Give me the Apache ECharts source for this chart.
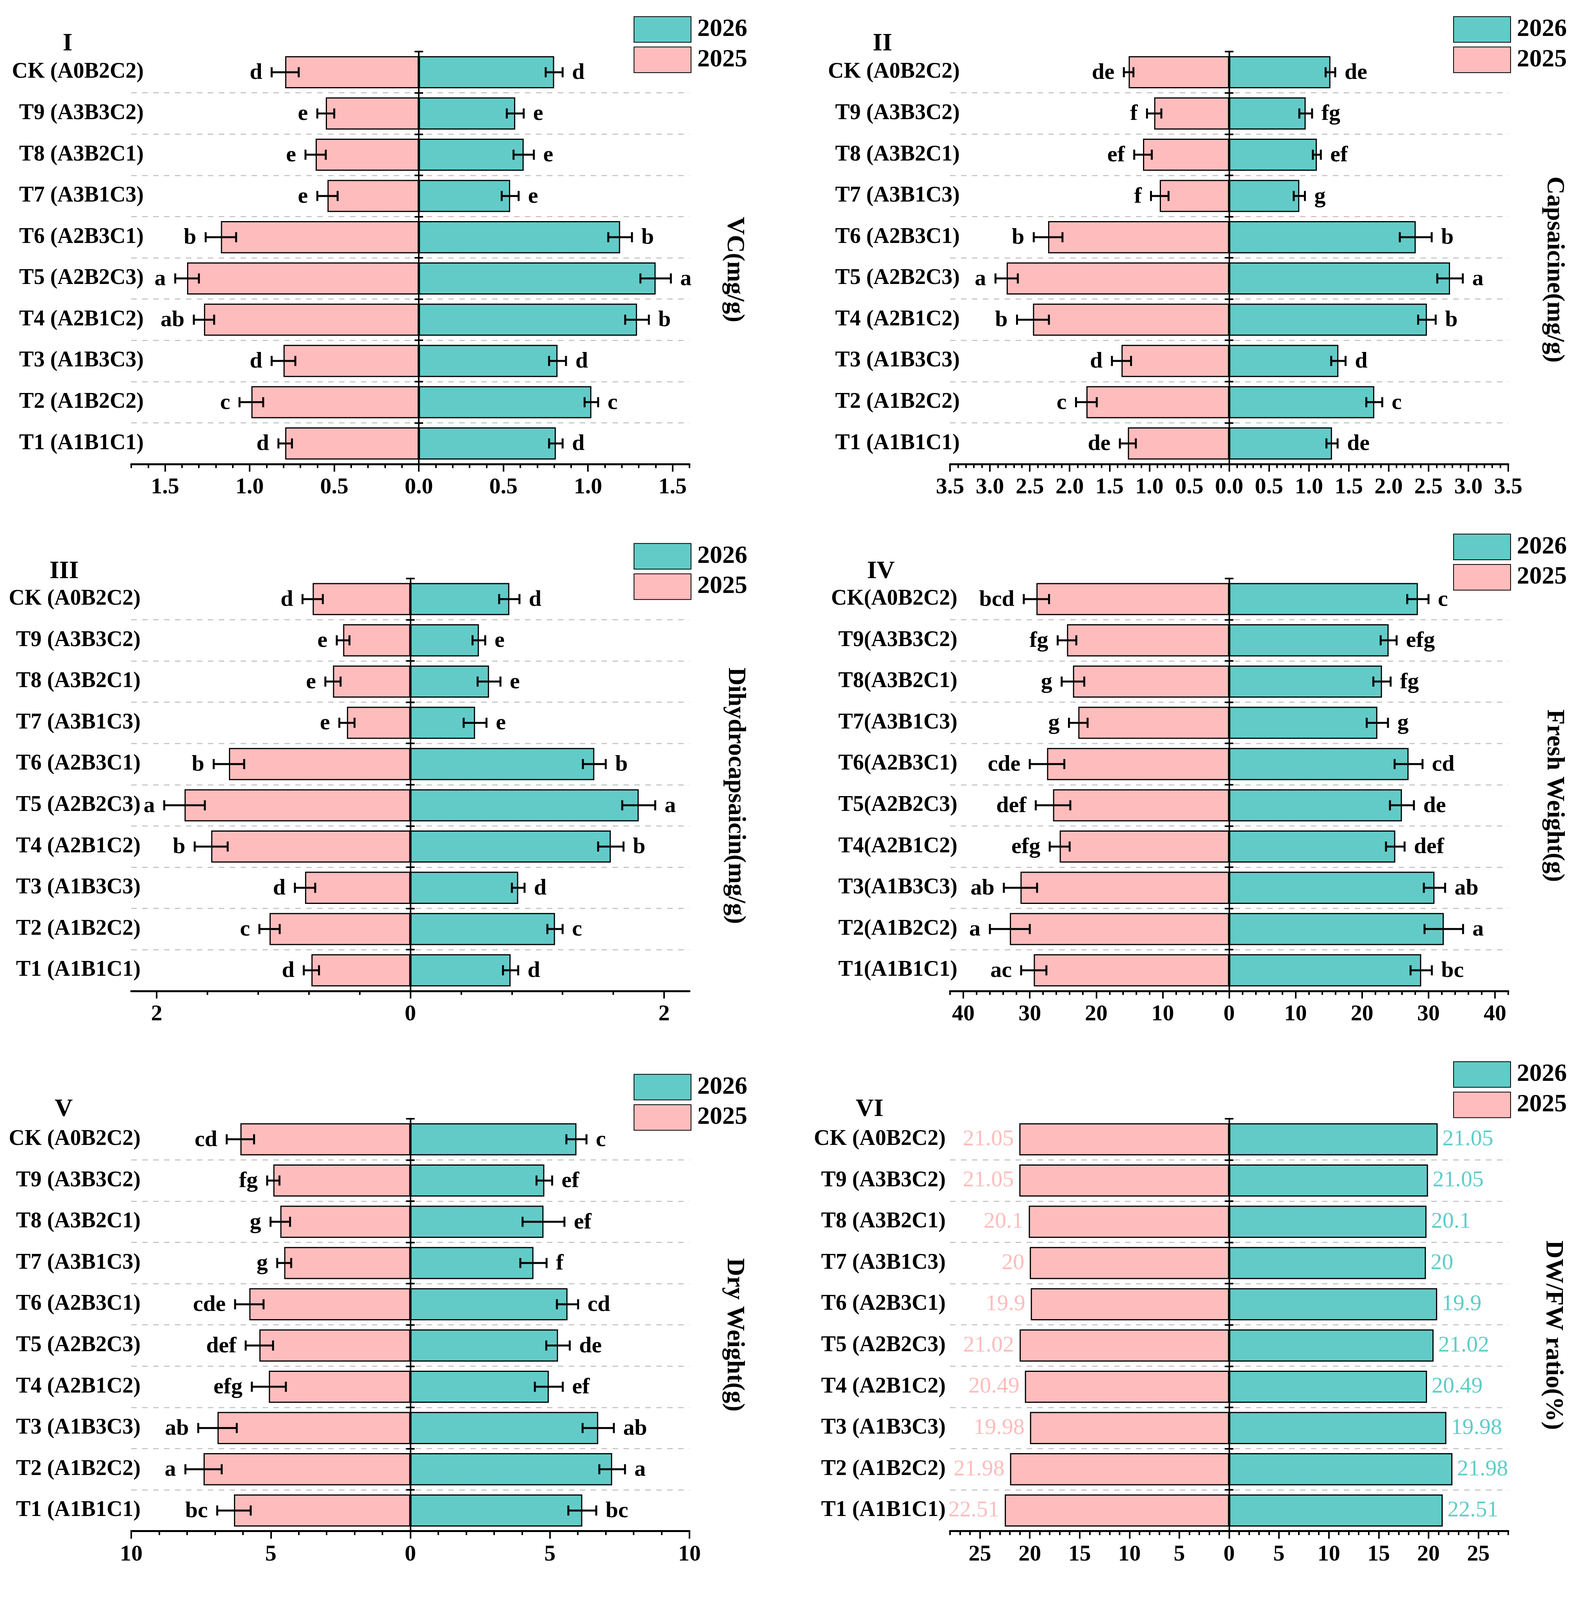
<!DOCTYPE html>
<html>
<head>
<meta charset="utf-8">
<script src="https://cdn.jsdelivr.net/npm/echarts@6/dist/echarts.min.js"></script>
<style>
  html, body { margin: 0; background: #fff; overflow: hidden; }
  #chart { width: 4037px; height: 4370px; }
</style>
</head>
<body>
<div id="chart"></div>
<script>
// 类别（上 -> 下）
const catsSpaced = ['CK (A0B2C2)', 'T9 (A3B3C2)', 'T8 (A3B2C1)', 'T7 (A3B1C3)', 'T6 (A2B3C1)',
                    'T5 (A2B2C3)', 'T4 (A2B1C2)', 'T3 (A1B3C3)', 'T2 (A1B2C2)', 'T1 (A1B1C1)'];
const catsTight = ['CK(A0B2C2)', 'T9(A3B3C2)', 'T8(A3B2C1)', 'T7(A3B1C3)', 'T6(A2B3C1)',
                   'T5(A2B2C3)', 'T4(A2B1C2)', 'T3(A1B3C3)', 'T2(A1B2C2)', 'T1(A1B1C1)'];

// I  VC
const vc2025 = [0.79, 0.55, 0.61, 0.54, 1.17, 1.37, 1.27, 0.80, 0.99, 0.79];
const vc2025Err = [0.08, 0.05, 0.06, 0.06, 0.09, 0.07, 0.06, 0.07, 0.07, 0.04];
const vc2026 = [0.80, 0.57, 0.62, 0.54, 1.19, 1.40, 1.29, 0.82, 1.02, 0.81];
const vc2026Err = [0.05, 0.05, 0.06, 0.05, 0.07, 0.09, 0.07, 0.05, 0.04, 0.04];
const vc2025Sig = ['d', 'e', 'e', 'e', 'b', 'a', 'ab', 'd', 'c', 'd'];
const vc2026Sig = ['d', 'e', 'e', 'e', 'b', 'a', 'b', 'd', 'c', 'd'];
const vcTicks = [-1.5, -1, -0.5, 0, 0.5, 1, 1.5];

// II  Capsaicine
const cap2025 = [1.26, 0.94, 1.08, 0.87, 2.27, 2.79, 2.46, 1.35, 1.79, 1.27];
const cap2025Err = [0.06, 0.09, 0.11, 0.11, 0.18, 0.14, 0.20, 0.12, 0.13, 0.10];
const cap2026 = [1.27, 0.96, 1.10, 0.88, 2.34, 2.77, 2.48, 1.37, 1.82, 1.29];
const cap2026Err = [0.06, 0.08, 0.05, 0.07, 0.20, 0.16, 0.11, 0.09, 0.10, 0.07];
const cap2025Sig = ['de', 'f', 'ef', 'f', 'b', 'a', 'b', 'd', 'c', 'de'];
const cap2026Sig = ['de', 'fg', 'ef', 'g', 'b', 'a', 'b', 'd', 'c', 'de'];
const capTicks = [-3.5, -3, -2.5, -2, -1.5, -1, -0.5, 0, 0.5, 1, 1.5, 2, 2.5, 3, 3.5];

// III  Dihydrocapsaicin
const dhc2025 = [0.77, 0.53, 0.61, 0.50, 1.43, 1.78, 1.57, 0.83, 1.11, 0.78];
const dhc2025Err = [0.08, 0.05, 0.06, 0.06, 0.12, 0.16, 0.13, 0.08, 0.08, 0.06];
const dhc2026 = [0.78, 0.54, 0.62, 0.51, 1.45, 1.80, 1.58, 0.85, 1.14, 0.79];
const dhc2026Err = [0.08, 0.05, 0.09, 0.09, 0.09, 0.13, 0.10, 0.05, 0.06, 0.06];
const dhc2025Sig = ['d', 'e', 'e', 'e', 'b', 'a', 'b', 'd', 'c', 'd'];
const dhc2026Sig = ['d', 'e', 'e', 'e', 'b', 'a', 'b', 'd', 'c', 'd'];
const dhcTicks = [-2, 0, 2];

// IV  Fresh Weight
const fw2025 = [29.0, 24.4, 23.5, 22.7, 27.4, 26.5, 25.5, 31.4, 33.0, 29.4];
const fw2025Err = [1.9, 1.4, 1.7, 1.4, 2.6, 2.6, 1.5, 2.5, 3.0, 1.9];
const fw2026 = [28.4, 24.0, 23.0, 22.3, 27.0, 26.0, 25.0, 30.9, 32.3, 28.9];
const fw2026Err = [1.6, 1.2, 1.3, 1.6, 2.1, 1.8, 1.4, 1.6, 2.9, 1.6];
const fw2025Sig = ['bcd', 'fg', 'g', 'g', 'cde', 'def', 'efg', 'ab', 'a', 'ac'];
const fw2026Sig = ['c', 'efg', 'fg', 'g', 'cd', 'de', 'def', 'ab', 'a', 'bc'];
const fwTicks = [-40, -30, -20, -10, 0, 10, 20, 30, 40];

// V  Dry Weight
const dw2025 = [6.09, 4.91, 4.66, 4.52, 5.77, 5.41, 5.07, 6.91, 7.41, 6.32];
const dw2025Err = [0.49, 0.22, 0.35, 0.25, 0.51, 0.49, 0.61, 0.69, 0.65, 0.60];
const dw2026 = [5.95, 4.80, 4.77, 4.41, 5.63, 5.29, 4.96, 6.73, 7.23, 6.16];
const dw2026Err = [0.36, 0.28, 0.75, 0.47, 0.38, 0.42, 0.50, 0.56, 0.46, 0.50];
const dw2025Sig = ['cd', 'fg', 'g', 'g', 'cde', 'def', 'efg', 'ab', 'a', 'bc'];
const dw2026Sig = ['c', 'ef', 'ef', 'f', 'cd', 'de', 'ef', 'ab', 'a', 'bc'];
const dwTicks = [-10, -5, 0, 5, 10];

// VI  DW/FW ratio
const ratio2025 = [21.05, 21.05, 20.1, 20, 19.9, 21.02, 20.49, 19.98, 21.98, 22.51];
const ratio2026 = [20.92, 19.95, 19.8, 19.74, 20.87, 20.51, 19.85, 21.79, 22.4, 21.43];
const ratioLabels = ['21.05', '21.05', '20.1', '20', '19.9', '21.02', '20.49', '19.98', '21.98', '22.51'];
const ratioTicks = [-25, -20, -15, -10, -5, 0, 5, 10, 15, 20, 25];

const FONT = "'Liberation Serif', 'Times New Roman', serif";
const TEAL = '#62CBC8';
const PINK = '#FFBCBC';

const panels = [
    { roman: 'I', name: 'VC(mg/g)', cats: catsSpaced, v25: vc2025, e25: vc2025Err, v26: vc2026, e26: vc2026Err,
      s25: vc2025Sig, s26: vc2026Sig, min: -1.7, max: 1.6, major: vcTicks, minorStep: 0.1, digits: 1 },
    { roman: 'II', name: 'Capsaicine(mg/g)', cats: catsSpaced, v25: cap2025, e25: cap2025Err, v26: cap2026, e26: cap2026Err,
      s25: cap2025Sig, s26: cap2026Sig, min: -3.5, max: 3.5, major: capTicks, minorStep: 0.1, digits: 1 },
    { roman: 'III', name: 'Dihydrocapsaicin(mg/g)', cats: catsSpaced, v25: dhc2025, e25: dhc2025Err, v26: dhc2026, e26: dhc2026Err,
      s25: dhc2025Sig, s26: dhc2026Sig, min: -2.2, max: 2.2, major: dhcTicks, minorStep: 0.4, minorFrom: -2, minorTo: 2, digits: 0 },
    { roman: 'IV', name: 'Fresh Weight(g)', cats: catsTight, v25: fw2025, e25: fw2025Err, v26: fw2026, e26: fw2026Err,
      s25: fw2025Sig, s26: fw2026Sig, min: -42, max: 42, major: fwTicks, minorStep: 2, digits: 0 },
    { roman: 'V', name: 'Dry Weight(g)', cats: catsSpaced, v25: dw2025, e25: dw2025Err, v26: dw2026, e26: dw2026Err,
      s25: dw2025Sig, s26: dw2026Sig, min: -10, max: 10, major: dwTicks, minorStep: 1, digits: 0 },
    { roman: 'VI', name: 'DW/FW ratio(%)', cats: catsSpaced, v25: ratio2025, v26: ratio2026, valueLabels: ratioLabels,
      min: -28, max: 28, major: ratioTicks, minorStep: 1, digits: 0 }
];

// 每个面板的位置（按 4037x4370 设计）
const boxes = [
    { left: 336, top: 143, legend: [1622, 45], title: [173, 122], name: [1880, 747], labelMargin: -32 },
    { left: 2432, top: 143, legend: [3720, 45], title: [2259, 122], name: [3979, 747], labelMargin: -25 },
    { left: 336, top: 1603, legend: [1622, 1505], title: [164, 1584], name: [1883, 2205], labelMargin: -24 },
    { left: 2432, top: 1603, legend: [3720, 1479], title: [2255, 1584], name: [3979, 2205], labelMargin: -19 },
    { left: 336, top: 3100, legend: [1622, 2976], title: [163, 3075], name: [1880, 3699], labelMargin: -24 },
    { left: 2432, top: 3100, legend: [3720, 2941], title: [2226, 3075], name: [3976, 3700], labelMargin: 11 }
];
const GRID_W = 1429;
const GRID_H = 1143;

// 可见高度不足 4370 时整体纵向压缩
const viewH = window.innerHeight >= 4370 ? 4370 : Math.min(window.innerHeight, 4037);
const sy = viewH / 4370;
const Y = v => v * sy;

function errSeries(xi, yi, vals, errs, sigs, sign) {
    return {
        type: 'custom',
        name: 'err',
        xAxisIndex: xi,
        yAxisIndex: yi,
        z: 5,
        silent: true,
        data: vals.map((v, i) => [sign * v, i, errs[i]]),
        encode: { x: 0, y: 1 },
        renderItem: function (params, api) {
            const v = api.value(0);
            const c = api.value(1);
            const e = api.value(2);
            const y = api.coord([v, c])[1];
            const xa = api.coord([v - e, c])[0];
            const xb = api.coord([v + e, c])[0];
            const far = sign < 0 ? Math.min(xa, xb) : Math.max(xa, xb);
            const st = { stroke: '#000', lineWidth: 5 };
            const h = Y(14);
            return {
                type: 'group',
                children: [
                    { type: 'line', shape: { x1: xa, y1: y, x2: xb, y2: y }, style: st },
                    { type: 'line', shape: { x1: xa, y1: y - h, x2: xa, y2: y + h }, style: st },
                    { type: 'line', shape: { x1: xb, y1: y - h, x2: xb, y2: y + h }, style: st },
                    {
                        type: 'text',
                        style: {
                            x: far + sign * 24, y: y + 2,
                            text: sigs[params.dataIndex],
                            font: 'bold 58px ' + FONT,
                            fill: '#000',
                            align: sign < 0 ? 'right' : 'left',
                            verticalAlign: 'middle',
                            textAlign: sign < 0 ? 'right' : 'left',
                            textVerticalAlign: 'middle'
                        }
                    }
                ]
            };
        }
    };
}

const option = {
    animation: false,
    backgroundColor: '#fff',
    grid: [], xAxis: [], yAxis: [], legend: [], series: [], graphic: []
};

panels.forEach((p, g) => {
    const L = boxes[g];
    option.grid.push({ left: L.left, top: Y(L.top), width: GRID_W, height: Y(GRID_H) });

    const from = p.minorFrom !== undefined ? p.minorFrom : p.min;
    const to = p.minorTo !== undefined ? p.minorTo : p.max;
    const minor = [];
    for (let k = Math.round(from / p.minorStep); k <= Math.round(to / p.minorStep); k++) {
        minor.push(+(k * p.minorStep).toFixed(4));
    }

    // 主刻度 + 标签
    option.xAxis.push({
        type: 'value', gridIndex: g, position: 'bottom', min: p.min, max: p.max,
        axisLine: { show: true, onZero: false, lineStyle: { color: '#000', width: 5 } },
        axisTick: { show: true, customValues: p.major, length: Y(21), lineStyle: { color: '#000', width: 4 } },
        axisLabel: {
            customValues: p.major, hideOverlap: false,
            formatter: v => Math.abs(v).toFixed(p.digits),
            fontSize: 58, fontWeight: 'bold', fontFamily: FONT, color: '#000', margin: Y(34)
        },
        splitLine: { show: false }
    });
    // 次刻度
    option.xAxis.push({
        type: 'value', gridIndex: g, position: 'bottom', min: p.min, max: p.max,
        axisLine: { show: false, onZero: false },
        axisTick: { show: true, customValues: minor, length: Y(11), lineStyle: { color: '#000', width: 4 } },
        axisLabel: { show: false },
        splitLine: { show: false }
    });

    const yBase = { type: 'category', gridIndex: g, data: p.cats, inverse: true, position: 'left' };
    option.yAxis.push(Object.assign({}, yBase, {
        axisLine: { show: true, onZero: true, lineStyle: { color: '#000', width: 4 } },
        axisTick: { show: true, interval: 0, length: 11, lineStyle: { color: '#000', width: 4 } },
        axisLabel: { show: false },
        splitLine: {
            show: true,
            interval: (i) => i !== 0,
            lineStyle: { color: '#C8C8C8', width: 3, type: [14, 14] }
        }
    }));
    option.yAxis.push(Object.assign({}, yBase, {
        axisLine: { show: true, onZero: true, lineStyle: { color: '#000', width: 4, opacity: 0 } },
        axisTick: { show: true, inside: true, interval: 0, length: 11, lineStyle: { color: '#000', width: 4 } },
        axisLabel: { show: false },
        splitLine: { show: false }
    }));
    option.yAxis.push(Object.assign({}, yBase, {
        axisLine: { show: false, onZero: false },
        axisTick: { show: false },
        splitLine: { show: false },
        axisLabel: {
            show: true, interval: 0, margin: L.labelMargin,
            fontSize: 56, fontWeight: 'bold', fontFamily: FONT, color: '#000'
        }
    }));

    const xi = g * 2;
    const yi = g * 3;
    const bar25 = {
        type: 'bar', name: '2025', xAxisIndex: xi, yAxisIndex: yi,
        data: p.v25.map(v => -v),
        barGap: '-100%', barCategoryGap: '22%',
        itemStyle: { color: PINK, borderColor: '#000', borderWidth: 3 }
    };
    const bar26 = {
        type: 'bar', name: '2026', xAxisIndex: xi, yAxisIndex: yi,
        data: p.v26,
        barGap: '-100%', barCategoryGap: '22%',
        itemStyle: { color: TEAL, borderColor: '#000', borderWidth: 3 }
    };
    if (p.valueLabels) {
        bar25.label = {
            show: true, position: 'left', distance: 14,
            formatter: (d) => p.valueLabels[d.dataIndex],
            fontSize: 58, fontFamily: FONT, color: PINK
        };
        bar26.label = {
            show: true, position: 'right', distance: 12,
            formatter: (d) => p.valueLabels[d.dataIndex],
            fontSize: 58, fontFamily: FONT, color: '#5ECDC9'
        };
    }
    option.series.push(bar25, bar26);
    if (p.e25) {
        option.series.push(errSeries(xi, yi, p.v25, p.e25, p.s25, -1));
        option.series.push(errSeries(xi, yi, p.v26, p.e26, p.s26, 1));
    }

    option.legend.push({
        data: ['2026', '2025'],
        left: L.legend[0], top: Y(L.legend[1]),
        orient: 'vertical', icon: 'rect',
        itemWidth: 146, itemHeight: Y(71), itemGap: Y(11), padding: 0,
        selectedMode: false,
        textStyle: { fontSize: 64, fontWeight: 'bold', fontFamily: FONT, color: '#000', padding: [0, 0, 0, 11] }
    });

    option.graphic.push({
        type: 'text', x: L.title[0], y: Y(L.title[1]),
        style: {
            text: p.roman, font: 'bold 64px ' + FONT, fill: '#000',
            align: 'center', verticalAlign: 'middle', textAlign: 'center', textVerticalAlign: 'middle'
        }
    });
    option.graphic.push({
        type: 'text', x: L.name[0], y: Y(L.name[1]), rotation: -Math.PI / 2,
        style: {
            text: p.name, font: 'bold 64px ' + FONT, fill: '#000',
            align: 'center', verticalAlign: 'middle', textAlign: 'center', textVerticalAlign: 'middle'
        }
    });
});

const dom = document.getElementById('chart');
dom.style.height = viewH + 'px';
const chart = echarts.init(dom);
chart.setOption(option);
</script>
</body>
</html>
